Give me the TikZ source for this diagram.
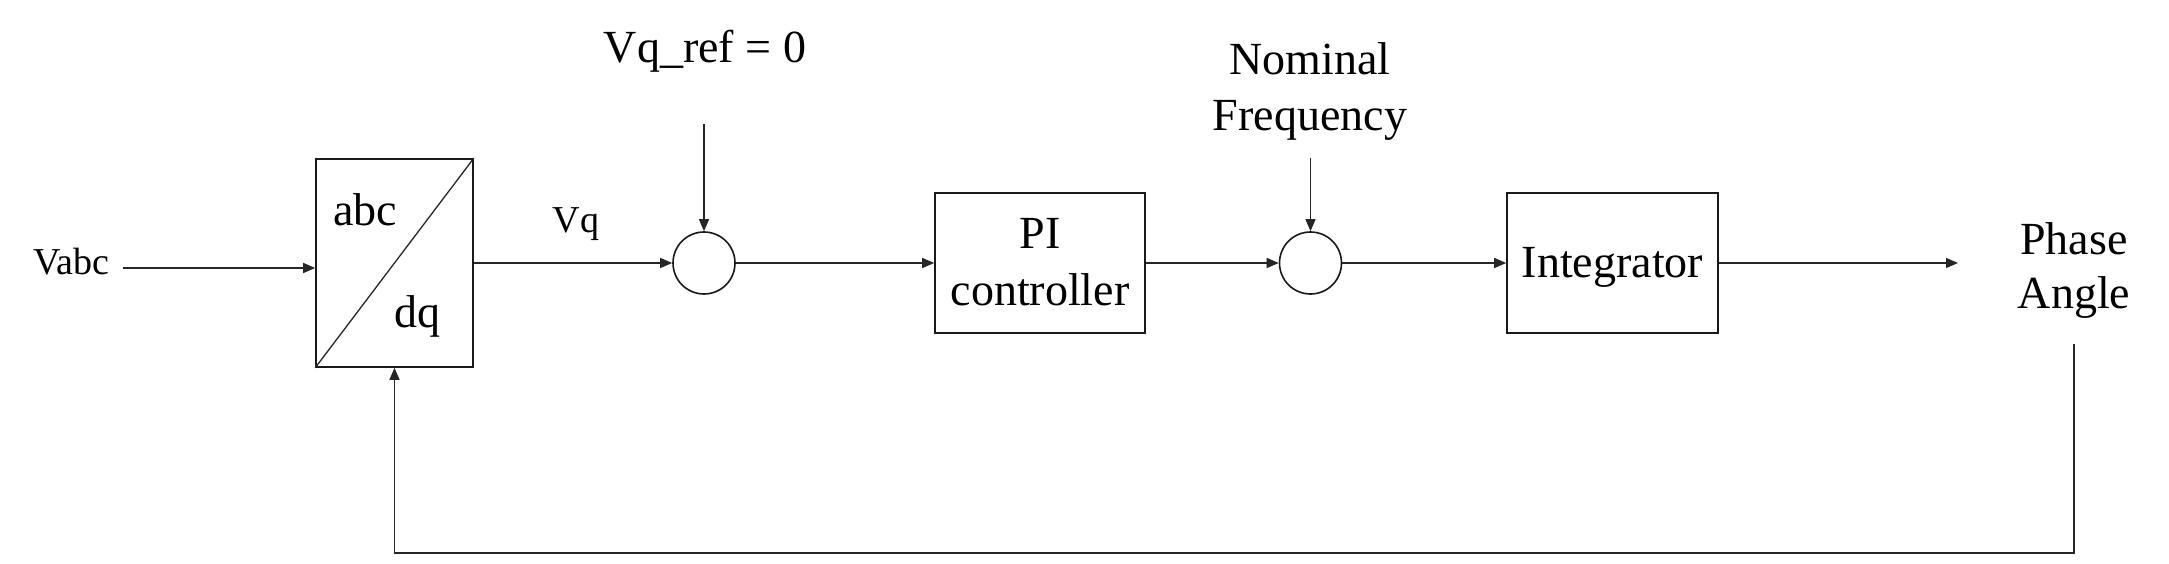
\documentclass[tikz,border=0pt]{standalone}
\usepackage{fontspec}
\setmainfont{Liberation Serif}
\usetikzlibrary{arrows.meta}
\newcommand\lblbig{\fontsize{46}{56}\selectfont}
\newcommand\lblsmall{\fontsize{38}{46}\selectfont}
\begin{document}
\begin{tikzpicture}[x=1pt,y=-1pt,
  conn/.style={line width=1.3pt, draw=black!85},
  arr/.style={conn, -{Triangle[length=12pt,width=10pt]}},
  blk/.style={draw=black!90, line width=1.6pt, rectangle, inner sep=0pt},
  sumnode/.style={draw=black!90, line width=1.6pt, circle, minimum size=62pt, inner sep=0pt},
  txt/.style={inner sep=0pt, font=\lblbig, anchor=base},
  stxt/.style={inner sep=0pt, font=\lblsmall, anchor=base},
]
\useasboundingbox (0,0) rectangle (2169,564);

% abc/dq transformation block
\node[blk, minimum width=157pt, minimum height=208pt] (conv) at (394.5,263) {};
\draw[conn] (conv.south west) -- (conv.north east);
\node[txt] (abc) at (365,226) {abc};
\node[txt] (dq) at (417.5,327) {dq};

% input
\node[stxt] (vabc) at (71,275) {Vabc};
\coordinate (vin) at (123,268);
\draw[arr] (vin) -- (vin -| conv.west);

% first summing junction
\node[sumnode] (sum1) at (704,263) {};
\draw[arr] (conv.east) -- (sum1.west);
\node[stxt] (vq) at (576,233) {Vq};
\node[txt] (vqref) at (705,63) {Vq\_ref = 0};
\coordinate (vqrefin) at (704,124);
\draw[arr] (vqrefin) -- (sum1.north);

% PI controller (base anchor = last line's baseline)
\node[blk, minimum width=210pt, minimum height=140pt] (pi) at (1040,263) {};
\node[txt, align=center] (pitxt) at (1040,305) {PI\\controller};
\draw[arr] (sum1.east) -- (pi.west);

% second summing junction
\node[sumnode] (sum2) at (1310.5,263) {};
\draw[arr] (pi.east) -- (sum2.west);
\node[txt, align=center] (nom) at (1310,131) {Nominal\\Frequency};
\coordinate (nomin) at (1310.5,158);
\draw[arr] (nomin) -- (sum2.north);

% integrator
\node[blk, minimum width=211pt, minimum height=140pt] (integ) at (1612.5,263) {};
\node[txt] (integtxt) at (1612.5,277) {Integrator};
\draw[arr] (sum2.east) -- (integ.west);

% output
\coordinate (out) at (1958,263);
\draw[arr] (integ.east) -- (out);
\node[txt, align=center, font=\fontsize{46}{54}\selectfont] (phase) at (2074,308) {Phase\\Angle};

% feedback
\coordinate (fbstart) at (2074,344);
\coordinate (fbcorner) at (2074,553);
\draw[arr] (fbstart) -- (fbcorner) -| (conv.south);
\end{tikzpicture}
\end{document}
